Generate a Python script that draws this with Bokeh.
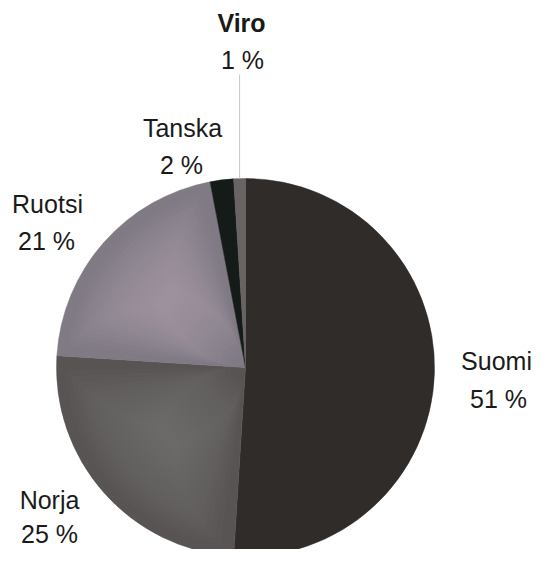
import numpy as np
from bokeh.plotting import figure
from bokeh.models import ColumnDataSource, Range1d
from bokeh.embed import file_html
from bokeh.resources import INLINE
from bokeh.core.properties import value

# ---- data ----
countries = ["Suomi", "Norja", "Ruotsi", "Tanska", "Viro"]
shares = [51, 25, 21, 2, 1]

# ---- styling / layout ----
colors = ["#302c2a", "#585453", "#7f7a83", "#151b18", "#676463"]
highlight = [None, "#7a7675", "#aca7b0", None, None]
name_x = [496, 49, 47, 182, 241]
name_y = [189, 50, 346, 422, 527]
pct_x = [498, 49, 46, 181, 242]
pct_y = [151, 16, 309, 385, 490]
name_style = ["normal", "normal", "normal", "normal", "bold"]

W, H = 532, 549
p = figure(width=W, height=H, x_range=Range1d(0, W), y_range=Range1d(0, H),
           output_backend="svg", toolbar_location=None, min_border=0,
           x_axis_location=None, y_axis_location=None)
p.grid.visible = False
p.outline_line_color = None
p.background_fill_color = "white"
p.border_fill_color = "white"

cx, cy, r = 245, 182, 189
frac = np.array(shares, dtype=float) / sum(shares)
cum = np.concatenate([[0.0], np.cumsum(frac)])
start = np.pi / 2 - 2 * np.pi * cum[1:]
end = np.pi / 2 - 2 * np.pi * cum[:-1]

src = ColumnDataSource(dict(start=start, end=end, color=colors, name=countries))
p.wedge(x=cx, y=cy, radius=r, start_angle="start", end_angle="end",
        fill_color="color", line_color="color", line_width=0.5, source=src)

# soft shading inside the larger grey slices
N = 16
alpha = 0.075
for i, hc in enumerate(highlight):
    if hc is None:
        continue
    a0, a1 = start[i], end[i]
    am, hspan = (a0 + a1) / 2, (a1 - a0) / 2
    rc = 0.55 * r
    s = 1 - np.arange(1, N + 1) / (N + 1)
    inner = np.clip(rc - 0.5 * r * s, 0, r)
    outer = np.clip(rc + 0.42 * r * s, 0, r)
    sa = am - hspan * (0.15 + 0.8 * s)
    ea = am + hspan * (0.15 + 0.8 * s)
    p.annular_wedge(x=cx, y=cy, inner_radius=inner, outer_radius=outer,
                    start_angle=sa, end_angle=ea, fill_color=hc,
                    fill_alpha=alpha, line_color=None)

# leader line for Viro
viro_mid = np.pi / 2 - 2 * np.pi * (cum[-2] + cum[-1]) / 2
lx = cx + r * np.cos(viro_mid)
p.segment(x0=[lx], y0=[cy + r * np.sin(viro_mid)], x1=[lx], y1=[475],
          line_color="#c8c8c8", line_width=1)

lab = ColumnDataSource(dict(
    nx=name_x, ny=name_y, px=pct_x, py=pct_y,
    name=countries, pct=[f"{v} %" for v in shares], style=name_style))
p.text(x="nx", y="ny", text="name", source=lab, text_align="center",
       text_baseline="alphabetic", text_font=value("Liberation Sans"),
       text_font_size="25px", text_font_style="style", text_color="#1a1a1a")
p.text(x="px", y="py", text="pct", source=lab, text_align="center",
       text_baseline="alphabetic", text_font=value("Liberation Sans"),
       text_font_size="25px", text_color="#1a1a1a")

open("out.html", "w").write(file_html(p, INLINE))
